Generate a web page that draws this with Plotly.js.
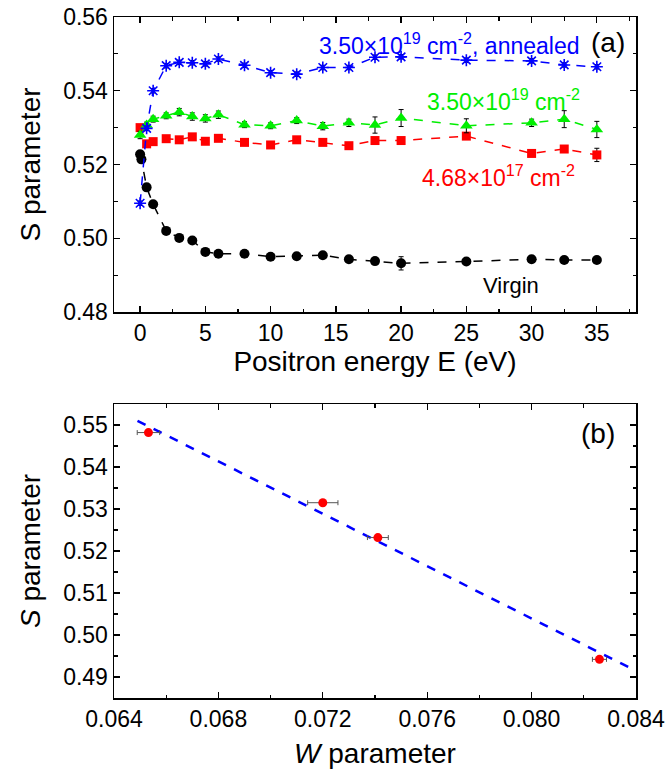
<!DOCTYPE html>
<html>
<head>
<meta charset="utf-8">
<script src="https://cdn.plot.ly/plotly-3.0.1.min.js"></script>
<style>html,body{margin:0;padding:0;background:#fff;}#chart{width:667px;height:773px;}</style>
</head>
<body>
<div id="chart"></div>
<script>
// ---- Panel (a): S parameter vs positron energy ----
const energyVirgin = [0, 0.1, 0.5, 1, 2, 3, 4, 5, 6, 8, 10, 12, 14, 16, 18, 20, 25, 30, 32.5, 35];
const sVirgin = [0.5228, 0.5214, 0.5138, 0.5092, 0.5020, 0.5001, 0.4994, 0.4963, 0.4958, 0.4958, 0.4950, 0.4951, 0.4954, 0.4943, 0.4938, 0.4932, 0.4937, 0.4943, 0.4941, 0.4941];
const errVirgin = [0.0005, 0.0005, 0.0005, 0.0005, 0.0005, 0.0005, 0.0005, 0.0005, 0.0005, 0.0005, 0.0005, 0.0005, 0.0005, 0.0005, 0.0005, 0.0018, 0.0005, 0.0005, 0.0005, 0.0005];

const energy = [0, 0.5, 1, 2, 3, 4, 5, 6, 8, 10, 12, 14, 16, 18, 20, 25, 30, 32.5, 35];
const sAnnealed = [0.5095, 0.5298, 0.5400, 0.5468, 0.5477, 0.5476, 0.5473, 0.5486, 0.5469, 0.5449, 0.5445, 0.5463, 0.5463, 0.5491, 0.5492, 0.5483, 0.5481, 0.5470, 0.5465];
const errAnnealed = [0.0006, 0.0006, 0.0006, 0.0006, 0.0006, 0.0006, 0.0006, 0.0006, 0.0006, 0.0006, 0.0006, 0.0006, 0.0006, 0.0006, 0.0006, 0.0006, 0.0006, 0.0006, 0.0006];
const sHigh = [0.5280, 0.5307, 0.5323, 0.5332, 0.5342, 0.5330, 0.5325, 0.5335, 0.5308, 0.5305, 0.5319, 0.5304, 0.5313, 0.5307, 0.5326, 0.5305, 0.5313, 0.5323, 0.5295];
const errHigh = [0.0010, 0.0008, 0.0008, 0.0008, 0.0010, 0.0010, 0.0010, 0.0010, 0.0008, 0.0008, 0.0008, 0.0010, 0.0010, 0.0022, 0.0023, 0.0019, 0.0010, 0.0023, 0.0022];
const sLow = [0.5300, 0.5256, 0.5262, 0.5270, 0.5267, 0.5275, 0.5263, 0.5271, 0.5260, 0.5253, 0.5267, 0.5260, 0.5251, 0.5265, 0.5265, 0.5277, 0.5230, 0.5242, 0.5226];
const errLow = [0.0007, 0.0007, 0.0007, 0.0007, 0.0007, 0.0007, 0.0007, 0.0007, 0.0007, 0.0007, 0.0007, 0.0007, 0.0007, 0.0007, 0.0007, 0.0007, 0.0007, 0.0008, 0.0018];

// ---- Panel (b): S vs W ----
const wParam = [0.06532, 0.07200, 0.07411, 0.08260];
const wErr = [0.00043, 0.00058, 0.00040, 0.00027];
const sParam = [0.5482, 0.5315, 0.5232, 0.4942];
const fitW = [0.0649, 0.0837];
const fitS = [0.5510, 0.4924];

const labelAnnealed = '3.50×10<sup>19</sup> cm<sup>-2</sup>, annealed';
const labelHigh = '3.50×10<sup>19</sup> cm<sup>-2</sup>';
const labelLow = '4.68×10<sup>17</sup> cm<sup>-2</sup>';
const labelVirgin = 'Virgin';

const FONT = 'Liberation Sans, Arial, sans-serif';
const ebar = (arr) => ({type: 'data', array: arr, visible: true, color: '#000', thickness: 1, width: 2.5});

const traces = [
  {x: energyVirgin, y: sVirgin, error_y: ebar(errVirgin), mode: 'lines+markers', xaxis: 'x', yaxis: 'y',
   line: {color: '#000', width: 1.5, dash: 'dash'}, marker: {symbol: 'circle', size: 10, color: '#000'}},
  {x: energy, y: sLow, error_y: ebar(errLow), mode: 'lines+markers', xaxis: 'x', yaxis: 'y',
   line: {color: '#ff0000', width: 1.5, dash: 'dash'}, marker: {symbol: 'square', size: 9, color: '#ff0000'}},
  {x: energy, y: sHigh, error_y: ebar(errHigh), mode: 'lines+markers', xaxis: 'x', yaxis: 'y',
   line: {color: '#00ee00', width: 1.5, dash: 'dash'}, marker: {symbol: 'triangle-up', size: 11, color: '#00ee00'}},
  {x: energy, y: sAnnealed, error_y: ebar(errAnnealed), mode: 'lines+markers', xaxis: 'x', yaxis: 'y',
   line: {color: '#0000ff', width: 1.5, dash: 'dash'}, marker: {symbol: 'asterisk-open', size: 10, color: '#0000ff', line: {color: '#0000ff', width: 1.6}}},
  {x: fitW, y: fitS, mode: 'lines', xaxis: 'x2', yaxis: 'y2',
   line: {color: '#0000ff', width: 2.5, dash: 'dash'}},
  {x: wParam, y: sParam, error_x: {type: 'data', array: wErr, visible: true, color: '#555', thickness: 1, width: 2.5},
   mode: 'markers', xaxis: 'x2', yaxis: 'y2', marker: {symbol: 'circle', size: 9, color: '#ff0000'}}
];

const axBase = {
  showline: true, linecolor: '#000', linewidth: 1.5, mirror: 'ticks', ticks: 'inside', ticklen: 6, tickwidth: 1.3,
  tickcolor: '#000', showgrid: false, zeroline: false, tickfont: {family: FONT, size: 23, color: '#000'},
  automargin: false
};

const layout = {
  width: 667, height: 773, showlegend: false, paper_bgcolor: '#fff', plot_bgcolor: '#fff',
  margin: {l: 114, r: 31, t: 17, b: 75},
  font: {family: FONT, color: '#000'},
  xaxis: Object.assign({}, axBase, {domain: [0, 1], anchor: 'y', range: [-2, 38], tickvals: [0, 5, 10, 15, 20, 25, 30, 35],
    minor: {dtick: 2.5, tick0: 0, ticks: 'inside', ticklen: 3.5, tickcolor: '#000', tickwidth: 1.2},
    title: {text: 'Positron energy E (eV)', font: {family: FONT, size: 28, color: '#000'}, standoff: 3}}),
  yaxis: Object.assign({}, axBase, {domain: [0.5668, 1], anchor: 'x', range: [0.48, 0.56], tickvals: [0.48, 0.50, 0.52, 0.54, 0.56],
    ticktext: ['0.48', '0.50', '0.52', '0.54', '0.56'],
    minor: {dtick: 0.01, tick0: 0.48, ticks: 'inside', ticklen: 3.5, tickcolor: '#000', tickwidth: 1.2},
    title: {text: 'S parameter', font: {family: FONT, size: 28, color: '#000'}, standoff: 14}}),
  xaxis2: Object.assign({}, axBase, {domain: [0, 1], anchor: 'y2', range: [0.064, 0.084],
    tickvals: [0.064, 0.068, 0.072, 0.076, 0.080, 0.084], ticktext: ['0.064', '0.068', '0.072', '0.076', '0.080', '0.084'],
    minor: {dtick: 0.002, tick0: 0.064, ticks: 'inside', ticklen: 3.5, tickcolor: '#000', tickwidth: 1.2},
    title: {text: '<i>W</i> parameter', font: {family: FONT, size: 28, color: '#000'}, standoff: 12}}),
  yaxis2: Object.assign({}, axBase, {domain: [0, 0.4317], anchor: 'x2', range: [0.485, 0.555],
    tickvals: [0.49, 0.50, 0.51, 0.52, 0.53, 0.54, 0.55], ticktext: ['0.49', '0.50', '0.51', '0.52', '0.53', '0.54', '0.55'],
    minor: {dtick: 0.005, tick0: 0.485, ticks: 'inside', ticklen: 3.5, tickcolor: '#000', tickwidth: 1.2},
    title: {text: '<i>S</i> parameter', font: {family: FONT, size: 28, color: '#000'}, standoff: 14}}),
  annotations: [
    {text: labelAnnealed, xref: 'x domain', yref: 'y domain', x: 0.8966, y: 0.908, xanchor: 'right', yanchor: 'middle',
     showarrow: false, font: {family: FONT, size: 23, color: '#0000ff'}},
    {text: '(a)', xref: 'x domain', yref: 'y domain', x: 0.982, y: 0.912, xanchor: 'right', yanchor: 'middle',
     showarrow: false, font: {family: FONT, size: 28, color: '#000'}},
    {text: labelHigh, xref: 'x domain', yref: 'y domain', x: 0.8966, y: 0.72, xanchor: 'right', yanchor: 'middle',
     showarrow: false, font: {family: FONT, size: 23, color: '#00ee00'}},
    {text: labelLow, xref: 'x domain', yref: 'y domain', x: 0.887, y: 0.46, xanchor: 'right', yanchor: 'middle',
     showarrow: false, font: {family: FONT, size: 23, color: '#ff0000'}},
    {text: labelVirgin, xref: 'x domain', yref: 'y domain', x: 0.7605, y: 0.0915, xanchor: 'center', yanchor: 'middle',
     showarrow: false, font: {family: FONT, size: 22, color: '#000'}},
    {text: '(b)', xref: 'x2 domain', yref: 'y2 domain', x: 0.9635, y: 0.901, xanchor: 'right', yanchor: 'middle',
     showarrow: false, font: {family: FONT, size: 28, color: '#000'}}
  ]
};

Plotly.newPlot('chart', traces, layout, {displayModeBar: false, staticPlot: true});
</script>
</body>
</html>
